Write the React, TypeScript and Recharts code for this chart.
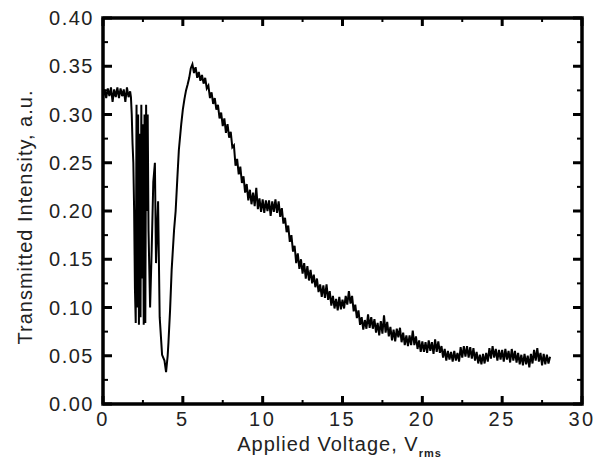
import { LineChart, Line, XAxis, YAxis, Label, ReferenceArea, ReferenceDot } from "recharts";

// [applied voltage (V rms), transmitted intensity (a.u.)]
const plateau: [number, number][] = [
  [0.0, 0.318], [0.1, 0.326], [0.2, 0.317], [0.3, 0.327], [0.4, 0.319], [0.5, 0.328],
  [0.6, 0.313], [0.7, 0.326], [0.8, 0.318], [0.9, 0.328], [1.0, 0.317], [1.1, 0.327],
  [1.2, 0.319], [1.3, 0.326], [1.4, 0.313], [1.5, 0.328], [1.6, 0.318], [1.7, 0.324],
];

const oscillation: [number, number][] = [
  [1.75, 0.318], [1.8, 0.3], [1.85, 0.27], [1.9, 0.25], [1.95, 0.2], [2.0, 0.12],
  [2.05, 0.084], [2.1, 0.31], [2.15, 0.1], [2.2, 0.3], [2.25, 0.082], [2.3, 0.28],
  [2.35, 0.09], [2.4, 0.31], [2.45, 0.13], [2.5, 0.29], [2.55, 0.082], [2.6, 0.3],
  [2.65, 0.084], [2.7, 0.31], [2.75, 0.2], [2.8, 0.3], [2.85, 0.18], [2.95, 0.1],
  [3.05, 0.16], [3.15, 0.23], [3.25, 0.25], [3.32, 0.146], [3.45, 0.21], [3.55, 0.09],
  [3.7, 0.051], [3.85, 0.045], [3.95, 0.033], [4.05, 0.05], [4.1, 0.064], [4.2, 0.097],
  [4.3, 0.139], [4.45, 0.18], [4.55, 0.2], [4.65, 0.232], [4.75, 0.263], [4.9, 0.29],
  [5.0, 0.305], [5.1, 0.316], [5.2, 0.325], [5.3, 0.331], [5.4, 0.338],
];

const peak: [number, number][] = [
  [5.5, 0.348], [5.6, 0.352], [5.7, 0.343], [5.8, 0.349], [5.9, 0.338], [6.0, 0.344],
  [6.1, 0.335], [6.2, 0.341], [6.3, 0.332], [6.4, 0.338], [6.5, 0.327], [6.6, 0.33],
  [6.7, 0.317], [6.8, 0.323], [6.9, 0.311], [7.0, 0.317], [7.1, 0.305], [7.2, 0.31],
  [7.3, 0.296], [7.4, 0.302], [7.5, 0.288], [7.6, 0.296], [7.7, 0.281], [7.8, 0.29],
  [7.9, 0.276], [8.0, 0.282], [8.1, 0.266], [8.2, 0.268], [8.3, 0.247], [8.4, 0.254],
  [8.5, 0.238], [8.6, 0.246], [8.7, 0.229], [8.8, 0.236], [8.9, 0.219], [9.0, 0.228],
  [9.1, 0.211], [9.2, 0.222], [9.3, 0.207], [9.4, 0.219], [9.5, 0.205], [9.6, 0.224],
  [9.7, 0.202], [9.8, 0.213], [9.9, 0.199], [10.0, 0.212], [10.1, 0.198], [10.2, 0.211],
  [10.3, 0.2], [10.4, 0.211], [10.5, 0.195], [10.6, 0.21], [10.7, 0.199], [10.8, 0.212],
  [10.9, 0.198], [11.0, 0.21],
];

const decay: [number, number][] = [
  [11.1, 0.194], [11.2, 0.203], [11.3, 0.187], [11.4, 0.193], [11.5, 0.178], [11.6, 0.185],
  [11.7, 0.168], [11.8, 0.175], [11.9, 0.158], [12.0, 0.164], [12.1, 0.146], [12.2, 0.156],
  [12.3, 0.14], [12.4, 0.15], [12.5, 0.135], [12.6, 0.146], [12.7, 0.13], [12.8, 0.143],
  [12.9, 0.128], [13.0, 0.139], [13.1, 0.125], [13.2, 0.134], [13.3, 0.121], [13.4, 0.13],
  [13.5, 0.116], [13.6, 0.124], [13.7, 0.111], [13.8, 0.123], [13.9, 0.11], [14.0, 0.124],
  [14.1, 0.108], [14.2, 0.117], [14.3, 0.102], [14.4, 0.112], [14.5, 0.099], [14.6, 0.109],
  [14.7, 0.097], [14.8, 0.111], [14.9, 0.098], [15.0, 0.108], [15.1, 0.099], [15.2, 0.112],
  [15.3, 0.103], [15.4, 0.117], [15.5, 0.104], [15.6, 0.112], [15.7, 0.096], [15.8, 0.103],
  [15.9, 0.089], [16.0, 0.097], [16.1, 0.082], [16.2, 0.09], [16.3, 0.077], [16.4, 0.087],
  [16.5, 0.078], [16.6, 0.093], [16.7, 0.079], [16.8, 0.09], [16.9, 0.078], [17.0, 0.088],
  [17.1, 0.074], [17.2, 0.084], [17.3, 0.071], [17.4, 0.086], [17.5, 0.073], [17.6, 0.092],
  [17.7, 0.074], [17.8, 0.085], [17.9, 0.07], [18.0, 0.08], [18.1, 0.066], [18.2, 0.077],
  [18.3, 0.065], [18.4, 0.078], [18.5, 0.069], [18.6, 0.079], [18.7, 0.064], [18.8, 0.074],
  [18.9, 0.061], [19.0, 0.071], [19.1, 0.06], [19.2, 0.071], [19.3, 0.061], [19.4, 0.076],
  [19.5, 0.061], [19.6, 0.07], [19.7, 0.057], [19.8, 0.066], [19.9, 0.054], [20.0, 0.065],
  [20.1, 0.054], [20.2, 0.064], [20.3, 0.053], [20.4, 0.066], [20.5, 0.055], [20.6, 0.064],
  [20.7, 0.052], [20.8, 0.067], [20.9, 0.054], [21.0, 0.065], [21.1, 0.053], [21.2, 0.06],
  [21.3, 0.048], [21.4, 0.057], [21.5, 0.045], [21.6, 0.055], [21.7, 0.046], [21.8, 0.054],
  [21.9, 0.044], [22.0, 0.055], [22.1, 0.045], [22.2, 0.053], [22.3, 0.044], [22.4, 0.059],
  [22.5, 0.048], [22.6, 0.06], [22.7, 0.049], [22.8, 0.06], [22.9, 0.048], [23.0, 0.059],
  [23.1, 0.047], [23.2, 0.058], [23.3, 0.045], [23.4, 0.054], [23.5, 0.042], [23.6, 0.051],
  [23.7, 0.041], [23.8, 0.052], [23.9, 0.042], [24.0, 0.053], [24.1, 0.044], [24.2, 0.058],
  [24.3, 0.047], [24.4, 0.06], [24.5, 0.048], [24.6, 0.057], [24.7, 0.045], [24.8, 0.056],
  [24.9, 0.046], [25.0, 0.056], [25.1, 0.044], [25.2, 0.057], [25.3, 0.046], [25.4, 0.055],
  [25.5, 0.043], [25.6, 0.057], [25.7, 0.045], [25.8, 0.055], [25.9, 0.043], [26.0, 0.053],
  [26.1, 0.041], [26.2, 0.051], [26.3, 0.04], [26.4, 0.052], [26.5, 0.041], [26.6, 0.05],
  [26.7, 0.038], [26.8, 0.052], [26.9, 0.042], [27.0, 0.056], [27.1, 0.045], [27.2, 0.058],
  [27.3, 0.044], [27.4, 0.053], [27.5, 0.04], [27.6, 0.052], [27.7, 0.041], [27.8, 0.051],
  [27.9, 0.042], [28.0, 0.049],
];

const xTicks = [0, 2.5, 5, 7.5, 10, 12.5, 15, 17.5, 20, 22.5, 25, 27.5, 30];
const yTicks = [0, 0.025, 0.05, 0.075, 0.1, 0.125, 0.15, 0.175, 0.2, 0.225, 0.25, 0.275, 0.3, 0.325, 0.35, 0.375, 0.4];

const data = [...plateau, ...oscillation, ...peak, ...decay].map(([v, i]) => ({ v, i }));

const FONT = "'Liberation Sans', Arial, sans-serif";
const TEXT = "#222";

const isMajorX = (v: number) => Math.abs(v % 5) < 1e-6;
const isMajorY = (v: number) => Math.round(v * 1000) % 50 === 0;

// tick labels come from the axes, tick marks are drawn as reference dots pointing inward
const BottomLabel = (props: any) => {
  const v = props.payload.value;
  if (!isMajorX(v)) return <g />;
  return (
    <text x={Number(props.x)} y={Number(props.y) + 22} textAnchor="middle" fontFamily={FONT} fontSize={20} letterSpacing={2.5} fill={TEXT}>
      {v}
    </text>
  );
};

const LeftLabel = (props: any) => {
  const v = props.payload.value;
  if (!isMajorY(v)) return <g />;
  return (
    <text x={Number(props.x) - 9} y={Number(props.y) + 7} textAnchor="end" fontFamily={FONT} fontSize={20} letterSpacing={1.5} fill={TEXT}>
      {v.toFixed(2)}
    </text>
  );
};

const tickMark = (dx: number, dy: number, width: number) => (p: any) =>
  <path d={`M${p.cx},${p.cy}l${dx},${dy}`} stroke="#000" strokeWidth={width} fill="none" />;

const XTitle = (props: any) => {
  const { x, width } = props.viewBox;
  return (
    <text x={x + width / 2 - 3} y={451} textAnchor="middle" fontFamily={FONT} fontSize={20} letterSpacing={1} fill={TEXT}>
      Applied Voltage, V
      <tspan fontSize={11} fontWeight="bold" dy={6}>rms</tspan>
    </text>
  );
};

const YTitle = () => {
  const cx = 32;
  const cy = 217;
  return (
    <text x={cx} y={cy} transform={`rotate(-90 ${cx} ${cy})`} textAnchor="middle" fontFamily={FONT} fontSize={20} letterSpacing={1} fill={TEXT}>
      Transmitted Intensity, a.u.
    </text>
  );
};

export default function App() {
  return (
    <div style={{ position: "fixed", left: 0, top: 0, width: 602, height: 466, background: "#fff" }}>
      <LineChart width={602} height={466} data={data} margin={{ top: 18, right: 20, bottom: 32, left: 43 }}>
        <XAxis
          dataKey="v"
          type="number"
          domain={[0, 30]}
          ticks={xTicks}
          interval={0}
          height={30}
          tickSize={0}
          tickMargin={0}
          axisLine={false}
          tickLine={false}
          tick={BottomLabel}
        >
          <Label content={XTitle} />
        </XAxis>
        <YAxis
          type="number"
          domain={[0, 0.4]}
          ticks={yTicks}
          interval={0}
          width={60}
          tickSize={0}
          tickMargin={0}
          axisLine={false}
          tickLine={false}
          tick={LeftLabel}
        >
          <Label content={YTitle} />
        </YAxis>
        <ReferenceArea
          x1={0}
          x2={30}
          y1={0}
          y2={0.4}
          fill="none"
          fillOpacity={0}
          stroke="#000"
          strokeWidth={3.5}
          strokeOpacity={1}
          ifOverflow="visible"
        />
        {xTicks.map((t) => (
          <ReferenceDot key={`b${t}`} x={t} y={0} ifOverflow="visible"
            shape={tickMark(0, isMajorX(t) ? -8 : -4, isMajorX(t) ? 3 : 2)} />
        ))}
        {xTicks.map((t) => (
          <ReferenceDot key={`t${t}`} x={t} y={0.4} ifOverflow="visible"
            shape={tickMark(0, isMajorX(t) ? 8 : 4, isMajorX(t) ? 3 : 2)} />
        ))}
        {yTicks.map((t) => (
          <ReferenceDot key={`l${t}`} x={0} y={t} ifOverflow="visible"
            shape={tickMark(isMajorY(t) ? 9 : 5, 0, isMajorY(t) ? 3 : 2)} />
        ))}
        {yTicks.map((t) => (
          <ReferenceDot key={`r${t}`} x={30} y={t} ifOverflow="visible"
            shape={tickMark(isMajorY(t) ? -9 : -5, 0, isMajorY(t) ? 3 : 2)} />
        ))}
        <Line
          type="linear"
          dataKey="i"
          stroke="#000"
          strokeWidth={2}
          dot={false}
          activeDot={false}
          isAnimationActive={false}
        />
      </LineChart>
    </div>
  );
}
